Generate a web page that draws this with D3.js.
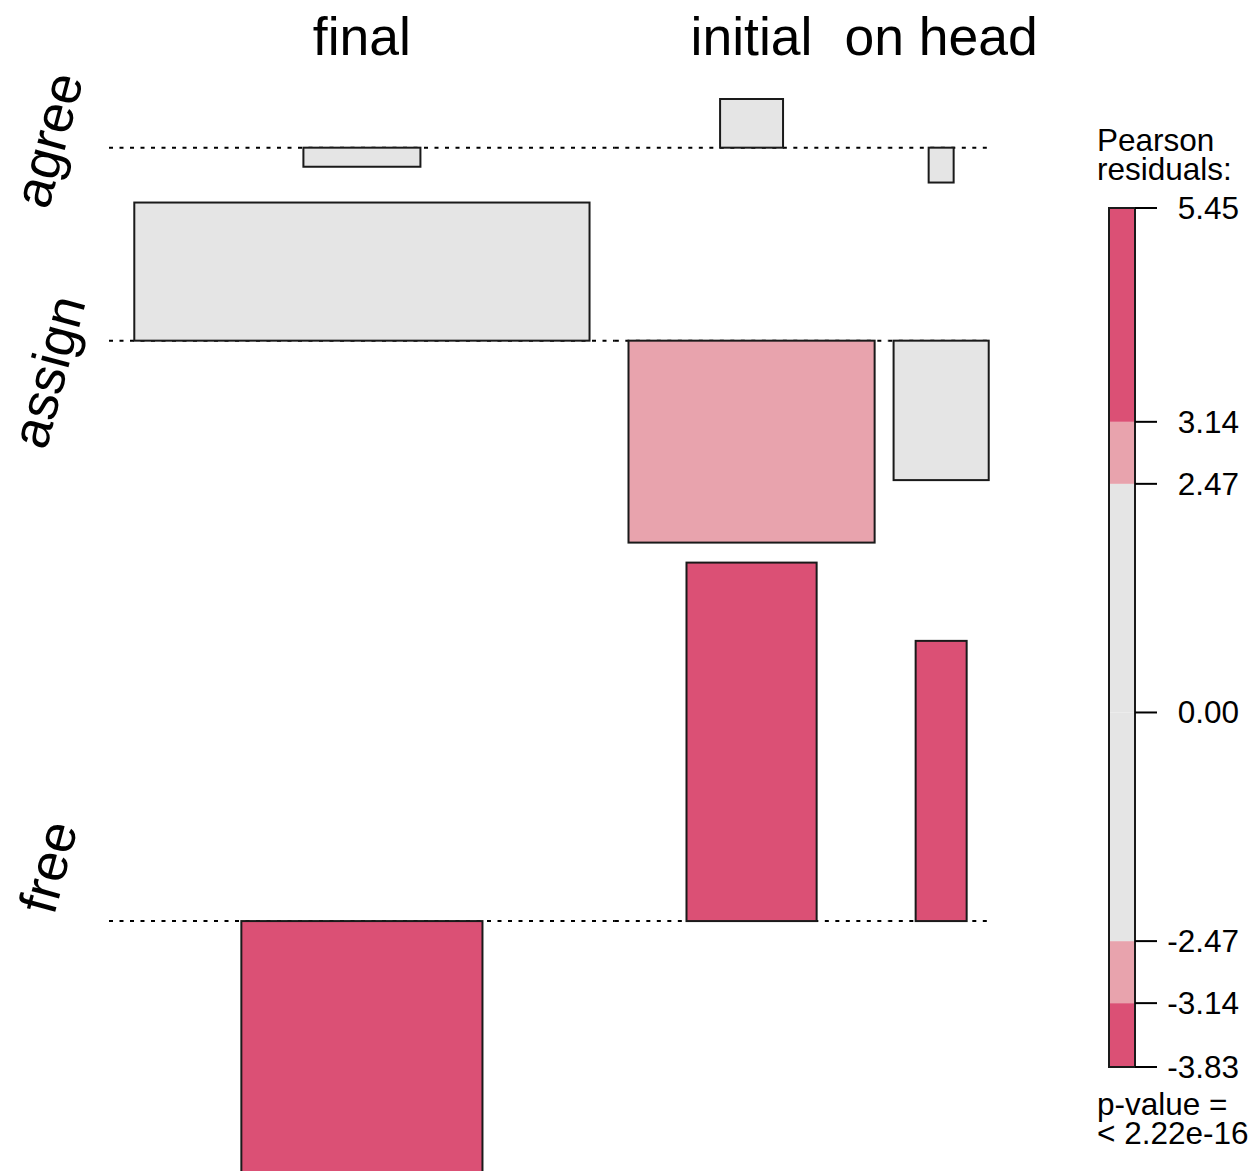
<!DOCTYPE html>
<html>
<head>
<meta charset="utf-8">
<script src="https://cdn.jsdelivr.net/npm/d3@7"></script>
<style>
  body { margin: 0; background: #fff; }
  text { font-family: "Liberation Sans", Arial, sans-serif; fill: #000; }
</style>
</head>
<body>
<div id="chart"></div>
<script>
const rowLevels = ['agree', 'assign', 'free'];
const colLevels = ['final', 'initial', 'on head'];

// Pearson residuals, rows x cols
const residuals = [
  [-0.29, 0.74, -0.53],
  [2.10, -3.07, -2.12],
  [-3.83, 5.45, 4.26]
];

// expected counts, rows x cols
const expected = [
  [34.2, 9.9, 1.56],
  [517.6, 151.3, 22.6],
  [145.2, 42.3, 6.5]
];

const legendBreaks = [-3.83, -3.14, -2.47, 0, 2.47, 3.14, 5.45];
const legendTicks = ['-3.83', '-3.14', '-2.47', '0.00', '2.47', '3.14', '5.45'];

const width = 1252;
const height = 1171;
const plot = {left: 109, right: 994, top: 99, bottom: 1173};
const rowGap = 20;
const xscale = 0.9;

const dark = '#db5075';
const light = '#e8a3ad';
const grey = '#e5e5e5';

const color = d3.scaleThreshold()
  .domain([-3.14, -2.47, 2.47, 3.14])
  .range([dark, light, grey, light, dark]);

const svg = d3.select('#chart')
  .append('svg')
  .attr('width', width)
  .attr('height', height);

// columns: width from largest sqrt(expected) in each column
const sqrtE = expected.map(r => r.map(Math.sqrt));
const colMax = colLevels.map((c, j) => d3.max(sqrtE, r => r[j]) / xscale);
const colStart = [0];
colMax.forEach((w, j) => colStart.push(colStart[j] + w));
const x = d3.scaleLinear()
  .domain([0, colStart[colStart.length - 1]])
  .range([plot.left, plot.right]);
const colMid = j => (x(colStart[j]) + x(colStart[j + 1])) / 2;

// rows: height from the range of residuals in each row
const rowLim = residuals.map(r => [Math.min(0, d3.min(r)), Math.max(0, d3.max(r))]);
const totalUnits = d3.sum(rowLim, d => d[1] - d[0]);
const k = (plot.bottom - plot.top - rowGap * (rowLevels.length - 1)) / totalUnits;
const rowTop = [];
let yy = plot.top;
rowLim.forEach(l => { rowTop.push(yy); yy += (l[1] - l[0]) * k + rowGap; });
const baseline = rowLim.map((l, i) => rowTop[i] + l[1] * k);

const cells = [];
rowLevels.forEach((r, i) => {
  colLevels.forEach((c, j) => {
    cells.push({row: i, col: j, res: residuals[i][j], w: sqrtE[i][j]});
  });
});

// dotted baselines, one per cell
svg.append('g')
  .selectAll('line')
  .data(cells)
  .enter().append('line')
    .attr('x1', d => x(colStart[d.col]))
    .attr('x2', d => d.col === colLevels.length - 1 ? x(colStart[d.col + 1]) - 5 : x(colStart[d.col + 1]))
    .attr('y1', d => baseline[d.row])
    .attr('y2', d => baseline[d.row])
    .style('stroke', '#000')
    .style('stroke-width', 2)
    .style('stroke-dasharray', '4 6.5');

// tiles
svg.append('g')
  .selectAll('rect')
  .data(cells)
  .enter().append('rect')
    .attr('x', d => colMid(d.col) - (x(d.w) - x(0)) / 2)
    .attr('width', d => x(d.w) - x(0))
    .attr('y', d => d.res > 0 ? baseline[d.row] - d.res * k : baseline[d.row])
    .attr('height', d => Math.abs(d.res) * k)
    .style('fill', d => color(d.res))
    .style('stroke', '#1a1a1a')
    .style('stroke-width', 2);

// column labels
svg.append('g')
  .selectAll('text')
  .data(colLevels)
  .enter().append('text')
    .attr('x', (d, j) => colMid(j))
    .attr('y', 55)
    .attr('text-anchor', 'middle')
    .style('font-size', '53.5px')
    .text(d => d);

// row labels (slightly tilted, as in the original)
svg.append('g')
  .selectAll('text')
  .data(rowLevels)
  .enter().append('text')
    .attr('transform', (d, i) => {
      const cy = rowTop[i] + (rowLim[i][1] - rowLim[i][0]) * k / 2;
      return `translate(66,${cy + 4}) rotate(-75)`;
    })
    .attr('text-anchor', 'middle')
    .style('font-size', '53.5px')
    .text(d => d);

// legend
const legend = {x: 1109, w: 26, top: 208, bottom: 1067};
const ly = d3.scaleLinear()
  .domain([legendBreaks[0], legendBreaks[legendBreaks.length - 1]])
  .range([legend.bottom, legend.top]);

const lg = svg.append('g');
lg.selectAll('rect')
  .data(d3.pairs(legendBreaks))
  .enter().append('rect')
    .attr('x', legend.x)
    .attr('width', legend.w)
    .attr('y', d => ly(d[1]))
    .attr('height', d => ly(d[0]) - ly(d[1]))
    .style('fill', d => color((d[0] + d[1]) / 2));

lg.append('rect')
  .attr('x', legend.x)
  .attr('y', legend.top)
  .attr('width', legend.w)
  .attr('height', legend.bottom - legend.top)
  .style('fill', 'none')
  .style('stroke', '#1a1a1a')
  .style('stroke-width', 2);

lg.selectAll('line')
  .data(legendTicks)
  .enter().append('line')
    .attr('x1', legend.x + legend.w)
    .attr('x2', legend.x + legend.w + 22)
    .attr('y1', d => ly(+d))
    .attr('y2', d => ly(+d))
    .style('stroke', '#000')
    .style('stroke-width', 2);

lg.selectAll('text.tick')
  .data(legendTicks)
  .enter().append('text')
    .attr('class', 'tick')
    .attr('x', 1239)
    .attr('y', d => ly(+d) + 11)
    .attr('text-anchor', 'end')
    .style('font-size', '31.5px')
    .text(d => d);

[['Pearson', 151], ['residuals:', 180], ['p-value =', 1115], ['< 2.22e-16', 1144]].forEach(t => {
  lg.append('text')
    .attr('x', 1097)
    .attr('y', t[1])
    .style('font-size', '31.5px')
    .text(t[0]);
});
</script>
</body>
</html>
